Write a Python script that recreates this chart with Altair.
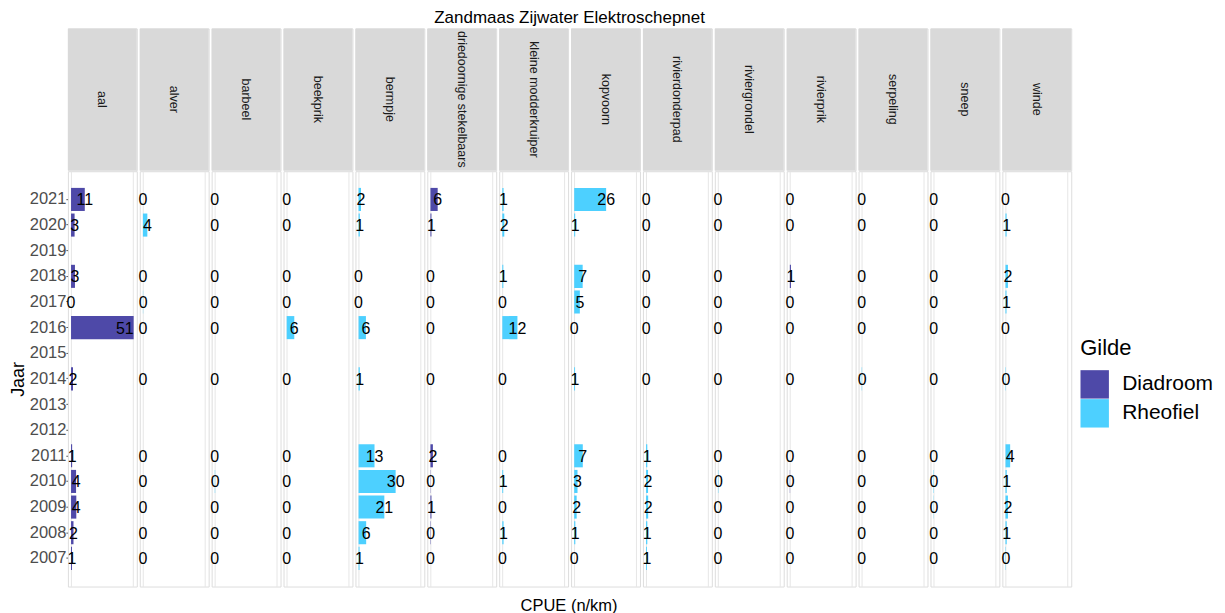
import altair as alt
import pandas as pd

# ---- data ----
years_all = [2021, 2020, 2019, 2018, 2017, 2016, 2015, 2014, 2013, 2012, 2011, 2010, 2009, 2008, 2007]
years_meas = [2007, 2008, 2009, 2010, 2011, 2014, 2016, 2017, 2018, 2020, 2021]

species = ["aal", "alver", "barbeel", "beekprik", "bermpje", "driedoornige stekelbaars",
           "kleine modderkruiper", "kopvoorn", "rivierdonderpad", "riviergrondel",
           "rivierprik", "serpeling", "sneep", "winde"]
guild = ["Diadroom", "Rheofiel", "Rheofiel", "Rheofiel", "Rheofiel", "Diadroom",
         "Rheofiel", "Rheofiel", "Rheofiel", "Rheofiel", "Diadroom", "Rheofiel",
         "Rheofiel", "Rheofiel"]

# values per species, in the order of years_meas
aal = [0.8, 2.0, 4.3, 4.1, 0.9, 1.6, 51.0, 0.0, 3.2, 2.9, 11.2]
alver = [0, 0, 0, 0, 0, 0, 0, 0.2, 0, 3.6, 0]
barbeel = [0, 0, 0, 0.3, 0, 0, 0, 0, 0, 0, 0]
beekprik = [0, 0, 0, 0, 0, 0, 6.2, 0, 0, 0, 0]
bermpje = [0.8, 6.2, 21.0, 30.2, 13.0, 1.0, 6.0, 0, 0, 1.0, 2.0]
driedoornige = [0, 0.3, 0.8, 0.2, 2.0, 0, 0, 0, 0, 0.8, 5.9]
kleine_modderkruiper = [0, 1.0, 0, 0.7, 0, 0, 12.3, 0, 0.8, 1.6, 1.0]
kopvoorn = [0, 0.9, 2.0, 2.7, 7.0, 0.7, 0, 4.6, 6.9, 0.8, 26.0]
rivierdonderpad = [0.7, 1.0, 1.7, 1.6, 1.0, 0, 0, 0, 0, 0, 0]
riviergrondel = [0, 0, 0, 0.3, 0, 0, 0, 0, 0, 0, 0]
rivierprik = [0, 0, 0, 0.2, 0, 0, 0, 0, 0.9, 0, 0]
serpeling = [0, 0, 0, 0, 0, 0.3, 0, 0, 0, 0, 0]
sneep = [0, 0, 0.2, 0.3, 0, 0, 0, 0, 0, 0, 0]
winde = [0.3, 1.0, 2.0, 1.0, 3.8, 0.3, 0, 0.8, 2.0, 0.9, 0]

series = [aal, alver, barbeel, beekprik, bermpje, driedoornige, kleine_modderkruiper,
          kopvoorn, rivierdonderpad, riviergrondel, rivierprik, serpeling, sneep, winde]

rows = []
for sp, g, vals in zip(species, guild, series):
    for yr, v in zip(years_meas, vals):
        rows.append({"soort": sp, "Gilde": g, "Jaar": str(yr), "CPUE": v})
df = pd.DataFrame(rows)
hdr = pd.DataFrame({"soort": species})

W = 69
H = 416
HH = 142
FONT = "Liberation Sans"

x_scale = alt.Scale(domain=[-2.55, 53.55], nice=False, zero=False)
y_scale = alt.Scale(domain=[str(y) for y in years_all], paddingInner=0.1, paddingOuter=0.65)
color_scale = alt.Scale(domain=["Diadroom", "Rheofiel"], range=["#4E49A8", "#4DD0FF"])

x_axis = alt.Axis(title=None, labels=False, ticks=False, domain=False,
                  values=list(range(0, 55, 5)),
                  gridColor={"condition": {"test": "datum.value % 10 === 0", "value": "#E6E6E6"},
                             "value": "#F2F2F2"},
                  gridWidth=1)
y_axis = alt.Axis(title="Jaar", labelFontSize=16.5, labelColor="#4D4D4D", titleFontSize=18,
                  titleColor="black", titleFontWeight="normal", tickSize=2,
                  tickColor="#4D4D4D", domain=False, bandPosition=0.5, gridColor="#EBEBEB",
                  labelPadding=0, titlePadding=2)

legend = alt.Legend(title="Gilde", titleFontSize=22, titleFontWeight="normal", titleColor="black",
                    labelFontSize=21, labelColor="black", symbolType="square", symbolSize=810,
                    symbolStrokeWidth=0, symbolOpacity=1, rowPadding=0, labelOffset=13,
                    titlePadding=10, orient="none", legendX=1014, legendY=310)

bars = alt.Chart().mark_bar().encode(
    x=alt.X("CPUE:Q", scale=x_scale, axis=x_axis, stack=None),
    y=alt.Y("Jaar:O", scale=y_scale, axis=y_axis),
    color=alt.Color("Gilde:N", scale=color_scale, legend=legend),
)
text_c = alt.Chart().transform_filter("datum.CPUE < 40").mark_text(
    fontSize=16, align="center", baseline="middle", color="black", dy=1, font=FONT
).encode(
    x="CPUE:Q", y="Jaar:O", text=alt.Text("CPUE:Q", format=".0f")
)
text_r = alt.Chart().transform_filter("datum.CPUE >= 40").mark_text(
    fontSize=16, align="right", baseline="middle", color="black", dy=1, font=FONT
).encode(
    x="CPUE:Q", y="Jaar:O", text=alt.Text("CPUE:Q", format=".0f")
)

plot = alt.layer(bars, text_c, text_r, data=df).properties(width=W, height=H).facet(
    column=alt.Column("soort:N", sort=species,
                      header=alt.Header(labels=False, title="CPUE (n/km)", titleOrient="bottom",
                                        titleFontSize=16.5, titleFontWeight="normal",
                                        titleColor="black", titlePadding=1, titleFont=FONT)),
    spacing=3,
    bounds="flush",
)

hrect = alt.Chart().mark_rect(fill="#D9D9D9").encode(
    x=alt.value(0), x2=alt.value(W), y=alt.value(0), y2=alt.value(HH)
)
htext = alt.Chart().mark_text(angle=90, fontSize=12.5, color="#1A1A1A", font=FONT,
                              align="center", baseline="middle").encode(
    x=alt.value(W / 2), y=alt.value(HH / 2), text="soort:N"
)
header = alt.layer(hrect, htext, data=hdr).properties(width=W, height=HH).facet(
    column=alt.Column("soort:N", sort=species, header=None),
    spacing=3,
    bounds="flush",
    title=alt.TitleParams("Zandmaas Zijwater Elektroschepnet", fontSize=17, fontWeight="normal",
                          anchor="middle", offset=1, color="black", font=FONT),
)

chart = alt.vconcat(header, plot, spacing=-2).configure_view(
    stroke="#BDBDBD", strokeWidth=1
).configure(
    font=FONT, padding={"left": 1, "top": 0, "right": 3, "bottom": 0}
)

chart.save("out.html", embed_options={"renderer": "svg", "actions": False})
